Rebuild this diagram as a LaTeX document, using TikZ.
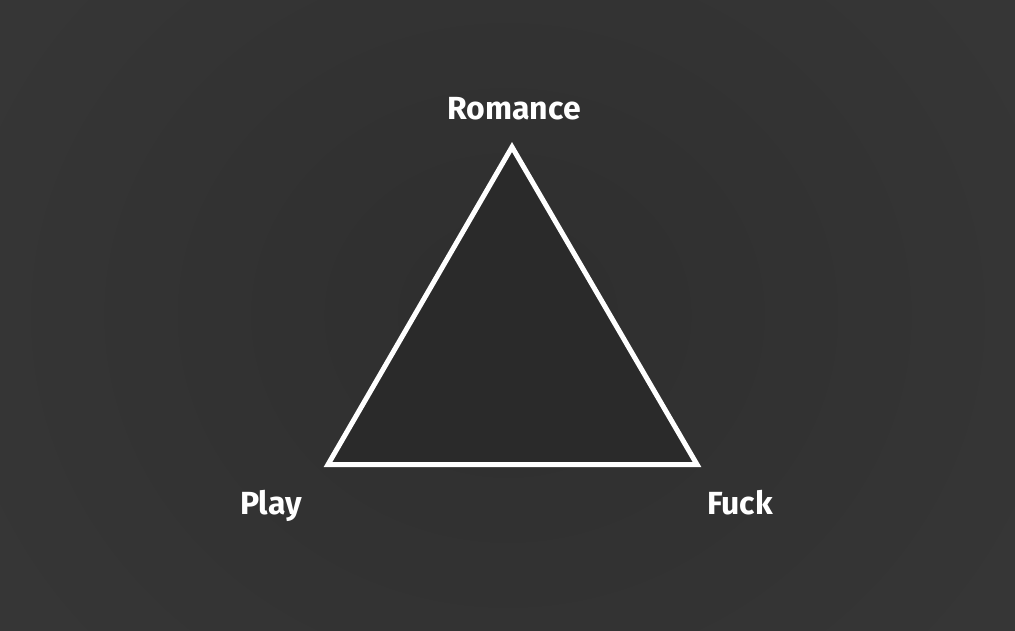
\documentclass[tikz,border=0pt]{standalone}
\usepackage{fontspec}
\setmainfont{Fira Sans}
\begin{document}
\begin{tikzpicture}[x=1pt,y=-1pt,
  lbl/.style={text=white,font=\fontsize{32}{34}\selectfont\bfseries,inner sep=0pt,anchor=base},
  tri/.style={draw=white,line width=5pt,line join=miter,fill=tribg}]
\definecolor{bgin}{HTML}{2E2E2E}
\definecolor{bgout}{HTML}{393939}
\definecolor{tribg}{HTML}{2A2A2A}
\useasboundingbox (0,0) rectangle (1015,630);
\shade[inner color=bgin,outer color=bgout] (-300,-400) rectangle (1315,1030);
\coordinate (top) at (512,147);
\coordinate (bl) at (328,464.5);
\coordinate (br) at (697,464.5);
\draw[tri] (top) -- (bl) -- (br) -- cycle;
\node[lbl] (rom) at (514,119) {Romance};
\node[lbl] (play) at (271,514) {Play};
\node[lbl] (fuck) at (740,514) {Fuck};
\end{tikzpicture}
\end{document}
